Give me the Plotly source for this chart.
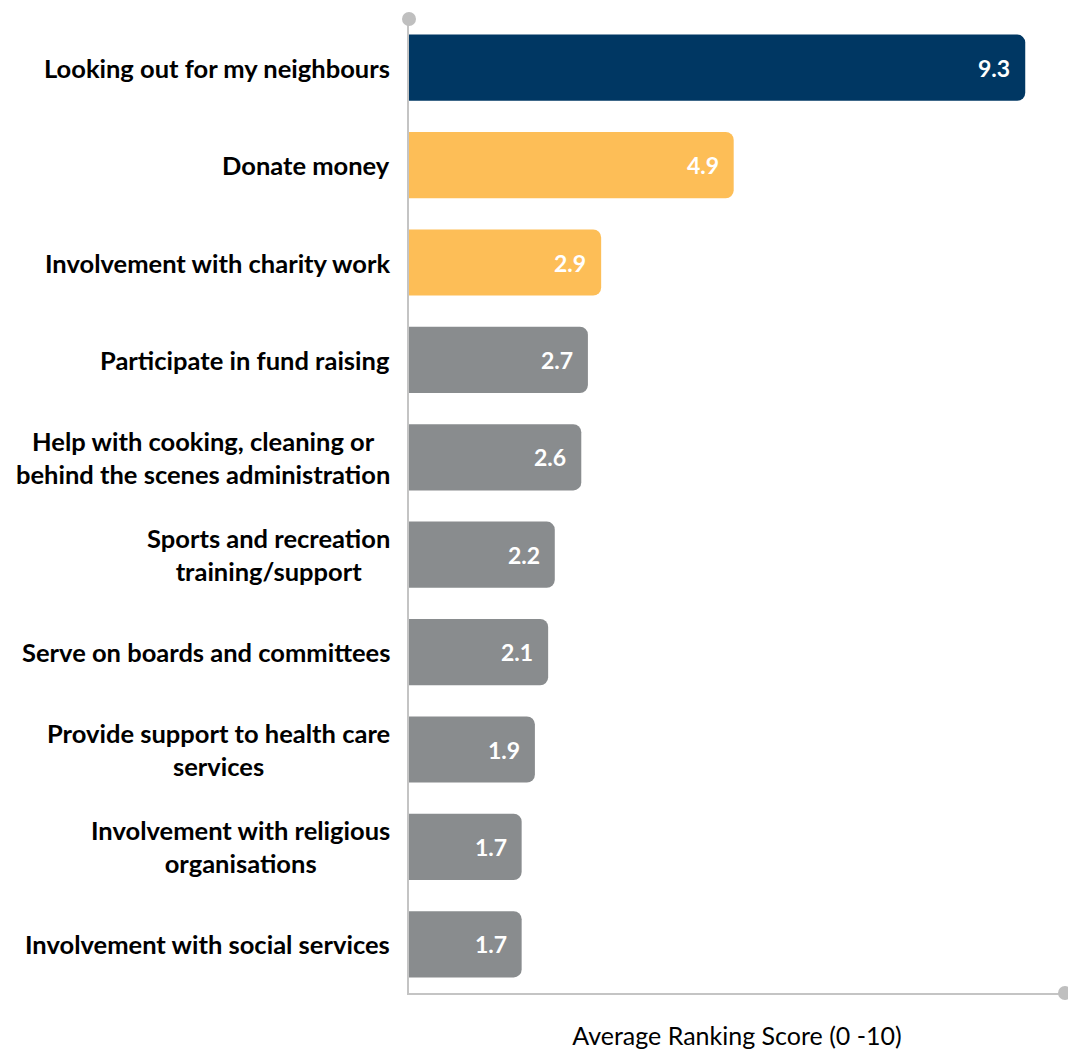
import plotly.graph_objects as go

categories = [
    "Looking out for my neighbours",
    "Donate money",
    "Involvement with charity work",
    "Participate in fund raising",
    "Help with cooking, cleaning or<br>behind the scenes administration",
    "Sports and recreation<br>training/support",
    "Serve on boards and committees",
    "Provide support to health care<br>services",
    "Involvement with religious<br>organisations",
    "Involvement with social services",
]
values = [9.3, 4.9, 2.9, 2.7, 2.6, 2.2, 2.1, 1.9, 1.7, 1.7]
colors = ["#003763", "#FDBE57", "#FDBE57"] + ["#898C8E"] * 7
x_title = "Average Ranking Score (0 -10)"

FONT = "Lato"

fig = go.Figure(go.Bar(
    x=values, y=categories, orientation="h",
    marker=dict(color=colors, cornerradius=8, line=dict(width=0)),
    width=0.68, hoverinfo="x+y",
))

annotations = []
for c in categories:
    annotations.append(dict(
        x=0, xref="paper", y=c, yref="y", text=c, showarrow=False,
        xanchor="right", xshift=-17, align="center",
        font=dict(family=FONT, size=25.5, color="black", weight="bold"),
    ))
for c, v in zip(categories, values):
    annotations.append(dict(
        x=v, xref="x", y=c, yref="y", text=f"{v:.1f}", showarrow=False,
        xanchor="right", xshift=-13,
        font=dict(family=FONT, size=23, color="white", weight="bold"),
    ))

shapes = [
    dict(type="circle", xref="paper", yref="paper", xsizemode="pixel", ysizemode="pixel",
         xanchor=0, yanchor=1, x0=-7, x1=7, y0=-7, y1=7,
         fillcolor="#BFBFBF", line=dict(width=0)),
    dict(type="circle", xref="paper", yref="paper", xsizemode="pixel", ysizemode="pixel",
         xanchor=1, yanchor=0, x0=-7, x1=7, y0=-7, y1=7,
         fillcolor="#BFBFBF", line=dict(width=0)),
]

fig.update_layout(
    width=1068, height=1050,
    margin=dict(l=409, r=3, t=19, b=55),
    paper_bgcolor="white", plot_bgcolor="white",
    showlegend=False,
    annotations=annotations, shapes=shapes,
    xaxis=dict(range=[0, 9.9], showgrid=False, zeroline=False, showticklabels=False,
               showline=True, linecolor="#C4C4C4", linewidth=2,
               title=dict(text=x_title, standoff=36,
                          font=dict(family=FONT, size=25, color="black"))),
    yaxis=dict(autorange="reversed", showgrid=False, zeroline=False, showticklabels=False,
               showline=True, linecolor="#C4C4C4", linewidth=2),
)

fig.write_html(
    "out.html",
    config={"displayModeBar": False},
    post_script="document.body.style.margin='0';document.body.style.overflow='hidden';",
)
